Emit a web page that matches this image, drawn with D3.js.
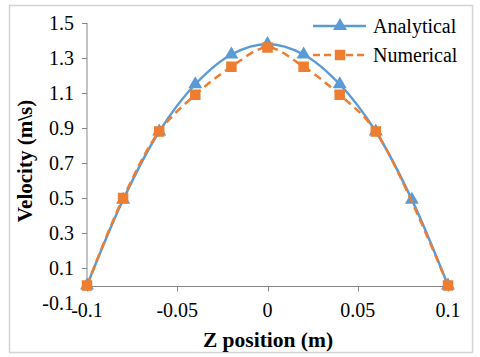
<!DOCTYPE html>
<html>
<head>
<meta charset="utf-8">
<script src="https://cdn.jsdelivr.net/npm/d3@7.9.0/dist/d3.min.js"></script>
<style>
  body { margin: 0; background: #fff; }
</style>
</head>
<body>
<svg id="chart" width="480" height="357" font-family="'Liberation Serif', 'DejaVu Serif', serif"></svg>
<script>
// data
const zPos = [-0.1, -0.08, -0.06, -0.04, -0.02, 0, 0.02, 0.04, 0.06, 0.08, 0.1];
const analytical = [0, 0.49, 0.88, 1.15, 1.32, 1.38, 1.32, 1.15, 0.88, 0.49, 0];
// numerical series has no point at 0.08
const numericalZ = [-0.1, -0.08, -0.06, -0.04, -0.02, 0, 0.02, 0.04, 0.06, 0.1];
const numerical = [0, 0.50, 0.88, 1.09, 1.25, 1.36, 1.25, 1.09, 0.88, 0];
const xTicks = [-0.1, -0.05, 0, 0.05, 0.1];
const yTicks = [-0.1, 0.1, 0.3, 0.5, 0.7, 0.9, 1.1, 1.3, 1.5];
const seriesNames = ['Analytical', 'Numerical'];

const blue = '#5b9bd5', orange = '#ed7d31', axisCol = '#868686';

const svg = d3.select('#chart');

// outer chart border
svg.append('rect')
  .attr('x', 9.5).attr('y', 5.5).attr('width', 463).attr('height', 347)
  .attr('fill', 'none').attr('stroke', '#d4d4d4').attr('stroke-width', 1.5);

const x = d3.scaleLinear().domain([-0.1, 0.1]).range([87, 448]);
const y = d3.scaleLinear().domain([-0.1, 1.5]).range([303, 23]);

// plain hyphen for negatives, like the original
const fmt = d => d3.format('.1f')(d).replace('\u2212', '-');

// y axis: line only down to zero, ticks outside
svg.append('line')
  .attr('x1', x(-0.1)).attr('x2', x(-0.1))
  .attr('y1', y(1.5)).attr('y2', y(0))
  .attr('stroke', axisCol);
svg.selectAll('.ytick').data(yTicks.filter(d => d > 0)).join('line')
  .attr('x1', x(-0.1) - 5).attr('x2', x(-0.1))
  .attr('y1', d => Math.round(y(d)) + 0.5).attr('y2', d => Math.round(y(d)) + 0.5)
  .attr('stroke', axisCol);
svg.selectAll('.ylab').data(yTicks).join('text')
  .attr('x', 74).attr('y', d => y(d)).attr('dy', '0.35em')
  .attr('text-anchor', 'end').attr('font-size', 20)
  .text(fmt);

// x axis crosses at zero
const xAxisY = Math.round(y(0)) + 0.5;
svg.append('line')
  .attr('x1', x(-0.1)).attr('x2', x(0.1))
  .attr('y1', xAxisY).attr('y2', xAxisY)
  .attr('stroke', axisCol);
svg.selectAll('.xtick').data(xTicks).join('line')
  .attr('x1', d => Math.round(x(d)) + 0.5).attr('x2', d => Math.round(x(d)) + 0.5)
  .attr('y1', xAxisY).attr('y2', xAxisY + 5)
  .attr('stroke', axisCol);
svg.selectAll('.xlab').data(xTicks).join('text')
  .attr('x', d => x(d)).attr('y', 317)
  .attr('text-anchor', 'middle').attr('font-size', 20)
  .text(d => d === 0 ? '0' : String(d));

// axis titles
svg.append('text')
  .attr('x', 268).attr('y', 347)
  .attr('text-anchor', 'middle').attr('font-size', 21.5).attr('font-weight', 'bold')
  .text('Z position (m)');
svg.append('text')
  .attr('transform', 'translate(32,161) rotate(-90)')
  .attr('text-anchor', 'middle').attr('font-size', 21).attr('font-weight', 'bold')
  .text('Velocity (m\\s)');

// lines
const line = d3.line().curve(d3.curveCatmullRom).x(d => x(d[0])).y(d => y(d[1]));
const anaPts = zPos.map((z, i) => [z, analytical[i]]);
const numPts = numericalZ.map((z, i) => [z, numerical[i]]);

const tri = d3.symbol().type(d3.symbolTriangle).size(85);
const sq = d3.symbol().type(d3.symbolSquare).size(110);

svg.append('path').attr('d', line(anaPts))
  .attr('fill', 'none').attr('stroke', blue).attr('stroke-width', 2.5);
svg.selectAll('.tri').data(anaPts).join('path')
  .attr('d', tri).attr('fill', blue)
  .attr('transform', d => `translate(${x(d[0])},${y(d[1])})`);

svg.append('path').attr('d', line(numPts))
  .attr('fill', 'none').attr('stroke', orange).attr('stroke-width', 2.5)
  .attr('stroke-dasharray', '8,5');
svg.selectAll('.sq').data(numPts).join('path')
  .attr('d', sq).attr('fill', orange)
  .attr('transform', d => `translate(${x(d[0])},${y(d[1])})`);

// legend
const legend = svg.append('g');
seriesNames.forEach((name, i) => {
  const ly = 26 + i * 29;
  legend.append('line')
    .attr('x1', 313).attr('x2', 366).attr('y1', ly).attr('y2', ly)
    .attr('stroke', i ? orange : blue).attr('stroke-width', 2.5)
    .attr('stroke-dasharray', i ? '7,4' : null);
  legend.append('path')
    .attr('d', i ? sq : tri).attr('fill', i ? orange : blue)
    .attr('transform', `translate(340,${ly})`);
  legend.append('text')
    .attr('x', 373).attr('y', ly).attr('dy', '0.35em')
    .attr('font-size', 20).text(name);
});
</script>
</body>
</html>
